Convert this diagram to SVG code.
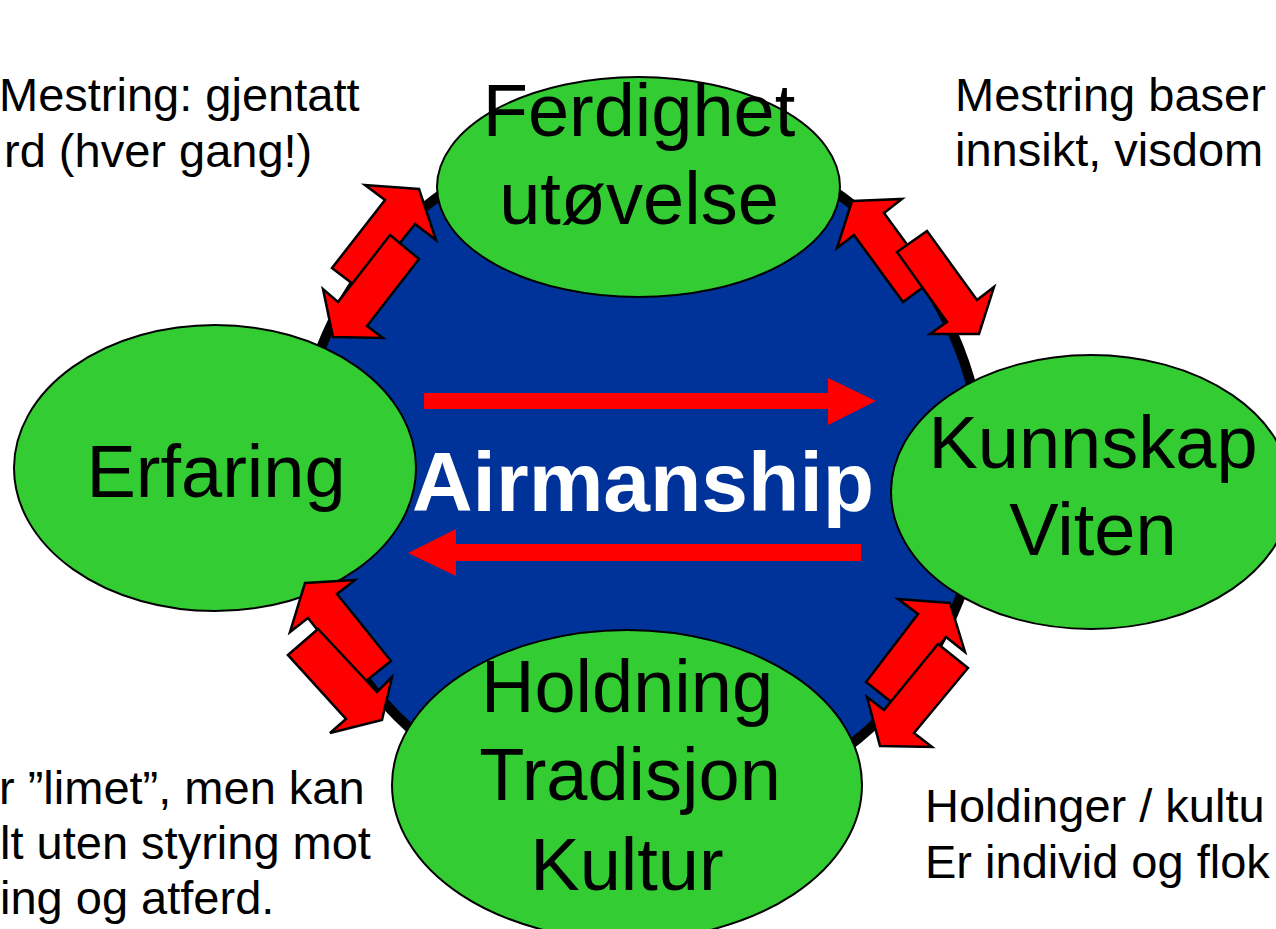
<svg xmlns="http://www.w3.org/2000/svg" width="1276" height="929" viewBox="0 0 1276 929">
<style>
.node{fill:#33CC33;stroke:#000;stroke-width:2}
.lbl{font-family:"Liberation Sans",Arial,sans-serif;font-size:74px;fill:#000;text-anchor:middle}
.note{font-family:"Liberation Sans",Arial,sans-serif;font-size:47px;fill:#000}
.blk{fill:#FF0000;stroke:#000;stroke-width:2.5;stroke-linejoin:miter}
.flat{fill:#FF0000}
</style>
<rect width="1276" height="929" fill="#fff"/>
<g id="hub">
<circle cx="640" cy="474" r="343" fill="#003399" stroke="#000" stroke-width="10"/>
</g>
<g id="connectors">
<polygon class="flat" points="424,393 828,393 828,378 876,401 828,425 828,409 424,409"/>
<polygon class="flat" points="861,544 456,544 456,529 408,553 456,576 456,561 861,561"/>
</g>
<g id="hub-label">
<text x="643" y="511" font-family="'Liberation Sans',Arial,sans-serif" font-size="84" font-weight="bold" fill="#fff" text-anchor="middle">Airmanship</text>
</g>
<g id="node-ferdighet">
<ellipse class="node" cx="638.5" cy="187" rx="201.5" ry="110"/>
<text class="lbl" x="639" y="136">Ferdighet</text>
<text class="lbl" x="639" y="224">utøvelse</text>
</g>
<g id="node-erfaring">
<ellipse class="node" cx="215" cy="468" rx="201" ry="143"/>
<text class="lbl" x="216" y="497">Erfaring</text>
</g>
<g id="node-kunnskap">
<ellipse class="node" cx="1091" cy="492" rx="200" ry="137"/>
<text class="lbl" x="1093" y="468">Kunnskap</text>
<text class="lbl" x="1093" y="555">Viten</text>
</g>
<g id="node-holdning">
<ellipse class="node" cx="627" cy="785" rx="235" ry="155"/>
<text class="lbl" x="627" y="712">Holdning</text>
<text class="lbl" x="630" y="800">Tradisjon</text>
<text class="lbl" x="627" y="890">Kultur</text>
</g>
<g id="block-arrows">
<polygon class="blk" points="419,189 436,240 415,224 362,291 332,268 385,200 365,185"/>
<polygon class="blk" points="390,235 419,259 367,326 383,338 333,337 323,289 338,302"/>
<polygon class="blk" points="852,201 902,199 884,213 933,280 903,302 854,235 837,248"/>
<polygon class="blk" points="897,252 927,231 977,300 994,287 979,334 930,334 947,322"/>
<polygon class="blk" points="305,583 355,580 337,594 391,661 361,685 308,618 290,632"/>
<polygon class="blk" points="288,655 318,629 377,692 392,677 382,720 330,733 346,719"/>
<polygon class="blk" points="950,603 965,652 946,637 894,704 866,682 918,614 898,599"/>
<polygon class="blk" points="938,644 968,668 914,733 932,747 880,746 867,697 884,710"/>
</g>
<g id="notes">
<text class="note" x="-1" y="111">Mestring: gjentatt</text>
<text class="note" x="4" y="167">rd (hver gang!)</text>
<text class="note" x="955" y="111">Mestring baser</text>
<text class="note" x="955" y="166">innsikt, visdom</text>
<text class="note" x="-1" y="804">r ”limet”, men kan</text>
<text class="note" x="0" y="859">lt uten styring mot</text>
<text class="note" x="0" y="914">ing og atferd.</text>
<text class="note" x="925" y="822">Holdinger / kultu</text>
<text class="note" x="925" y="878">Er individ og flok</text>
</g>
</svg>
